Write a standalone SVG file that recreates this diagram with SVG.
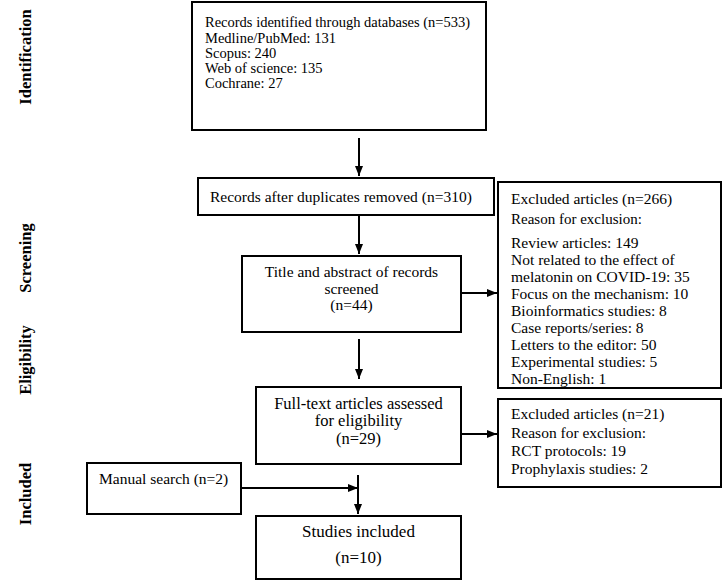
<svg xmlns="http://www.w3.org/2000/svg" width="724" height="582" viewBox="0 0 724 582">
<style>
.box{fill:#fff;stroke:#000;stroke-width:2}
.t{font-family:"Liberation Serif","Times New Roman",serif;fill:#000}
.s14{font-size:14.5px}
.s15{font-size:15px}
.s155{font-size:15.5px}
.s16{font-size:16.5px}
.s17{font-size:17px}
.c{text-anchor:middle}
.lab{font-family:"Liberation Serif","Times New Roman",serif;font-weight:bold;font-size:16.5px;text-anchor:middle;fill:#000}
.ln{stroke:#000;stroke-width:2;fill:none}
</style>
<defs>
<marker id="ah" markerUnits="userSpaceOnUse" markerWidth="10" markerHeight="10" viewBox="0 0 10 10" refX="10" refY="5" orient="auto">
<path d="M0,1 L10,5 L0,9 Z" fill="#000"/>
</marker>
</defs>
<g id="labels">
<text class="lab" transform="translate(31,57) rotate(-90)">Identification</text>
<text class="lab" transform="translate(31,258) rotate(-90)">Screening</text>
<text class="lab" transform="translate(31,360) rotate(-90)">Eligibility</text>
<text class="lab" transform="translate(31,494) rotate(-90)">Included</text>
</g>
<g id="identified">
<rect class="box" x="192" y="2" width="294" height="128"/>
<text class="t s14" x="205" y="27">Records identified through databases (n=533)</text>
<text class="t s14" x="205" y="42.5">Medline/PubMed: 131</text>
<text class="t s14" x="205" y="57.5">Scopus: 240</text>
<text class="t s14" x="205" y="72.5">Web of science: 135</text>
<text class="t s14" x="205" y="87.5">Cochrane: 27</text>
</g>
<g id="duplicates">
<rect class="box" x="198" y="178" width="296" height="37"/>
<text class="t s155" x="210" y="202">Records after duplicates removed (n=310)</text>
</g>
<g id="screened">
<rect class="box" x="242" y="256" width="219" height="76"/>
<text class="t s155 c" x="351.5" y="277">Title and abstract of records</text>
<text class="t s155 c" x="351.5" y="293.5">screened</text>
<text class="t s155 c" x="351.5" y="310">(n=44)</text>
</g>
<g id="fulltext">
<rect class="box" x="256" y="387" width="205" height="77"/>
<text class="t s16 c" x="358.5" y="408.5">Full-text articles assessed</text>
<text class="t s16 c" x="358.5" y="426">for eligibility</text>
<text class="t s16 c" x="358.5" y="443.5">(n=29)</text>
</g>
<g id="excluded1">
<rect class="box" x="498" y="182" width="223" height="206"/>
<text class="t s155" x="511" y="204">Excluded articles (n=266)</text>
<text class="t s15" x="511" y="224">Reason for exclusion:</text>
<text class="t s155" x="511" y="248">Review articles: 149</text>
<text class="t s155" x="511" y="265">Not related to the effect of</text>
<text class="t s155" x="511" y="282">melatonin on COVID-19: 35</text>
<text class="t s155" x="511" y="299">Focus on the mechanism: 10</text>
<text class="t s155" x="511" y="316">Bioinformatics studies: 8</text>
<text class="t s155" x="511" y="333">Case reports/series: 8</text>
<text class="t s155" x="511" y="350">Letters to the editor: 50</text>
<text class="t s155" x="511" y="367">Experimental studies: 5</text>
<text class="t s155" x="511" y="384">Non-English: 1</text>
</g>
<g id="excluded2">
<rect class="box" x="498" y="399" width="223" height="88"/>
<text class="t s155" x="511" y="419">Excluded articles (n=21)</text>
<text class="t s155" x="511" y="438">Reason for exclusion:</text>
<text class="t s155" x="511" y="456">RCT protocols: 19</text>
<text class="t s155" x="511" y="474">Prophylaxis studies: 2</text>
</g>
<g id="manual">
<rect class="box" x="87" y="463" width="154" height="51"/>
<text class="t s155" x="99" y="484">Manual search (n=2)</text>
</g>
<g id="included">
<rect class="box" x="256" y="516" width="205" height="63"/>
<text class="t s17 c" x="358.5" y="537">Studies included</text>
<text class="t s17 c" x="358.5" y="563">(n=10)</text>
</g>
<g id="connectors">
<line class="ln" x1="359" y1="138" x2="359" y2="176" marker-end="url(#ah)"/>
<line class="ln" x1="359" y1="215" x2="359" y2="254" marker-end="url(#ah)"/>
<line class="ln" x1="359" y1="339" x2="359" y2="379" marker-end="url(#ah)"/>
<line class="ln" x1="461" y1="293" x2="497" y2="293" marker-end="url(#ah)"/>
<line class="ln" x1="461" y1="434" x2="497" y2="434" marker-end="url(#ah)"/>
<line class="ln" x1="241" y1="488" x2="358" y2="488" marker-end="url(#ah)"/>
<line class="ln" x1="358" y1="475" x2="358" y2="514" marker-end="url(#ah)"/>
</g>
</svg>
